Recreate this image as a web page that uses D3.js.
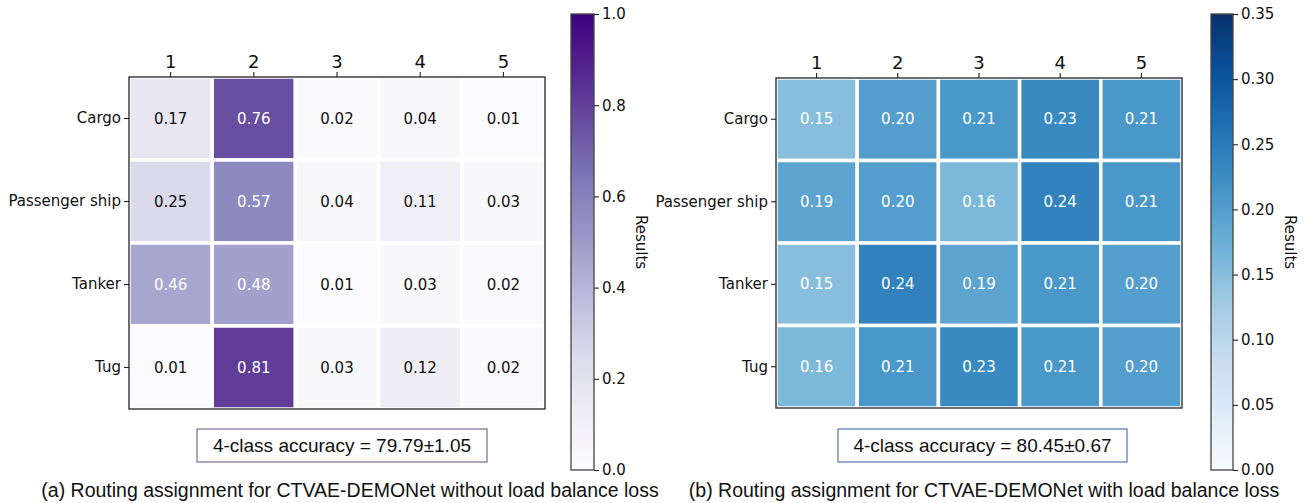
<!DOCTYPE html>
<html>
<head>
<meta charset="utf-8">
<script src="https://cdn.jsdelivr.net/npm/d3@7"></script>
<style>
  body { margin: 0; background: #fff; }
  svg { display: block; }
  .mpl text { font-family: "DejaVu Sans", sans-serif; }
  .note { font-family: "Liberation Sans", Arial, sans-serif; }
</style>
</head>
<body>
<svg id="chart" width="1305" height="503"></svg>
<script>
// ---- data ----
const rowLabels = ["Cargo", "Passenger ship", "Tanker", "Tug"];
const colLabels = ["1", "2", "3", "4", "5"];

// (a) without load balance loss
const routingNoLB = [
  [0.17, 0.76, 0.02, 0.04, 0.01],
  [0.25, 0.57, 0.04, 0.11, 0.03],
  [0.46, 0.48, 0.01, 0.03, 0.02],
  [0.01, 0.81, 0.03, 0.12, 0.02]
];
// (b) with load balance loss
const routingLB = [
  [0.15, 0.20, 0.21, 0.23, 0.21],
  [0.19, 0.20, 0.16, 0.24, 0.21],
  [0.15, 0.24, 0.19, 0.21, 0.20],
  [0.16, 0.21, 0.23, 0.21, 0.20]
];

const cbarTicksNoLB = [0.0, 0.2, 0.4, 0.6, 0.8, 1.0];
const cbarTicksLB = [0.00, 0.05, 0.10, 0.15, 0.20, 0.25, 0.30, 0.35];

const accuracyNoLB = "4-class accuracy = 79.79±1.05";
const accuracyLB = "4-class accuracy = 80.45±0.67";
const captionNoLB = "(a) Routing assignment for CTVAE-DEMONet without load balance loss";
const captionLB = "(b) Routing assignment for CTVAE-DEMONet with load balance loss";

// matplotlib-style colormaps (linear between the brewer stops)
const purples = d3.piecewise(d3.interpolateRgb, ["#fcfbfd","#efedf5","#dadaeb","#bcbddc","#9e9ac8","#807dba","#6a51a3","#54278f","#3f007d"]);
const blues = d3.piecewise(d3.interpolateRgb, ["#f7fbff","#deebf7","#c6dbef","#9ecae1","#6baed6","#4292c6","#2171b5","#08519c","#08306b"]);

const svg = d3.select("#chart");
const defs = svg.append("defs");

function drawPanel(cfg) {
  const g = svg.append("g").attr("class", "mpl");

  const x = d3.scaleBand().domain(colLabels).range([cfg.left, cfg.right]);
  const y = d3.scaleBand().domain(rowLabels).range([cfg.top, cfg.bottom]);
  const color = d3.scaleSequential(cfg.cmap).domain([0, cfg.vmax]);

  const clipId = "clip-" + cfg.id;
  defs.append("clipPath").attr("id", clipId)
    .append("rect")
    .attr("x", cfg.left).attr("y", cfg.top)
    .attr("width", cfg.right - cfg.left).attr("height", cfg.bottom - cfg.top);

  const cells = [];
  cfg.values.forEach((row, i) => row.forEach((v, j) => cells.push({ r: rowLabels[i], c: colLabels[j], v })));

  const cellG = g.append("g").attr("clip-path", "url(#" + clipId + ")");
  cellG.selectAll("rect")
    .data(cells)
    .enter()
    .append("rect")
    .attr("x", d => x(d.c))
    .attr("y", d => y(d.r))
    .attr("width", x.bandwidth())
    .attr("height", y.bandwidth())
    .attr("fill", d => color(d.v))
    .attr("stroke", "#fff")
    .attr("stroke-width", 3.5);

  g.append("g").selectAll("text")
    .data(cells)
    .enter()
    .append("text")
    .attr("x", d => x(d.c) + x.bandwidth() / 2)
    .attr("y", d => y(d.r) + y.bandwidth() / 2)
    .attr("text-anchor", "middle")
    .attr("dominant-baseline", "central")
    .style("font-size", "15px")
    .attr("fill", d => d.v > cfg.textThreshold ? "#fff" : "#111")
    .text(d => d.v.toFixed(2));

  // frame
  g.append("rect")
    .attr("x", cfg.left).attr("y", cfg.top)
    .attr("width", cfg.right - cfg.left).attr("height", cfg.bottom - cfg.top)
    .attr("fill", "none").attr("stroke", "#222").attr("stroke-width", 1.3);

  // column axis on top
  const xAxis = g.append("g")
    .attr("transform", "translate(0," + cfg.top + ")")
    .call(d3.axisTop(x).tickSize(5).tickPadding(4));
  xAxis.select(".domain").remove();
  xAxis.selectAll("line").attr("stroke", "#222").attr("stroke-width", 1.1);
  xAxis.selectAll("text").style("font-size", "18px").attr("fill", "#111");

  // row axis on left
  const yAxis = g.append("g")
    .attr("transform", "translate(" + cfg.left + ",0)")
    .call(d3.axisLeft(y).tickSize(5).tickPadding(3));
  yAxis.select(".domain").remove();
  yAxis.selectAll("line").attr("stroke", "#222").attr("stroke-width", 1.1);
  yAxis.selectAll("text").style("font-size", "15px").attr("fill", "#111");

  // colorbar
  const cb = cfg.cbar;
  const gradId = "grad-" + cfg.id;
  const grad = defs.append("linearGradient").attr("id", gradId)
    .attr("x1", 0).attr("y1", 1).attr("x2", 0).attr("y2", 0);
  d3.range(0, 1.0001, 0.02).forEach(t => {
    grad.append("stop").attr("offset", t).attr("stop-color", cfg.cmap(t));
  });
  g.append("rect")
    .attr("x", cb.left).attr("y", cb.top)
    .attr("width", cb.right - cb.left).attr("height", cb.bottom - cb.top)
    .attr("fill", "url(#" + gradId + ")")
    .attr("stroke", "#444").attr("stroke-width", 1.3);

  const cy = d3.scaleLinear().domain([0, cfg.vmax]).range([cb.bottom, cb.top]);
  const cAxis = g.append("g")
    .attr("transform", "translate(" + cb.right + ",0)")
    .call(d3.axisRight(cy).tickValues(cfg.cbarTicks).tickFormat(d3.format(cfg.tickFmt)).tickSize(5).tickPadding(3));
  cAxis.select(".domain").remove();
  cAxis.selectAll("line").attr("stroke", "#222").attr("stroke-width", 1.1);
  cAxis.selectAll("text").style("font-size", "15px").attr("fill", "#111");

  g.append("text")
    .attr("transform", "translate(" + cb.labelX + "," + (cb.top + cb.bottom) / 2 + ") rotate(90)")
    .attr("text-anchor", "middle")
    .attr("dominant-baseline", "central")
    .style("font-size", "15px")
    .attr("fill", "#111")
    .text("Results");

  // accuracy box
  const note = svg.append("g").attr("class", "note");
  note.append("rect")
    .attr("x", cfg.box.x).attr("y", cfg.box.y)
    .attr("width", cfg.box.w).attr("height", cfg.box.h)
    .attr("fill", "#fff").attr("stroke", cfg.box.stroke).attr("stroke-width", 1.2);
  note.append("text")
    .attr("x", cfg.box.x + cfg.box.w / 2)
    .attr("y", cfg.box.y + cfg.box.h / 2)
    .attr("text-anchor", "middle")
    .attr("dominant-baseline", "central")
    .style("font-size", "19px")
    .attr("fill", "#111")
    .text(cfg.accuracy);

  note.append("text")
    .attr("x", cfg.captionX)
    .attr("y", 497)
    .attr("text-anchor", "middle")
    .style("font-size", "19.5px")
    .attr("fill", "#111")
    .text(cfg.caption);
}

drawPanel({
  id: "a", values: routingNoLB, cmap: purples, vmax: 1.0, textThreshold: 0.4,
  left: 129, right: 545, top: 77, bottom: 409,
  cbar: { left: 571, right: 594, top: 14, bottom: 470, labelX: 641 },
  cbarTicks: cbarTicksNoLB, tickFmt: ".1f",
  box: { x: 197, y: 429, w: 290, h: 33, stroke: "#7b6a98" },
  accuracy: accuracyNoLB, caption: captionNoLB, captionX: 350
});

drawPanel({
  id: "b", values: routingLB, cmap: blues, vmax: 0.35, textThreshold: 0.1,
  left: 776, right: 1182, top: 78, bottom: 408,
  cbar: { left: 1211, right: 1233, top: 14, bottom: 470, labelX: 1290 },
  cbarTicks: cbarTicksLB, tickFmt: ".2f",
  box: { x: 838, y: 429, w: 289, h: 33, stroke: "#5575b5" },
  accuracy: accuracyLB, caption: captionLB, captionX: 984
});
</script>
</body>
</html>
